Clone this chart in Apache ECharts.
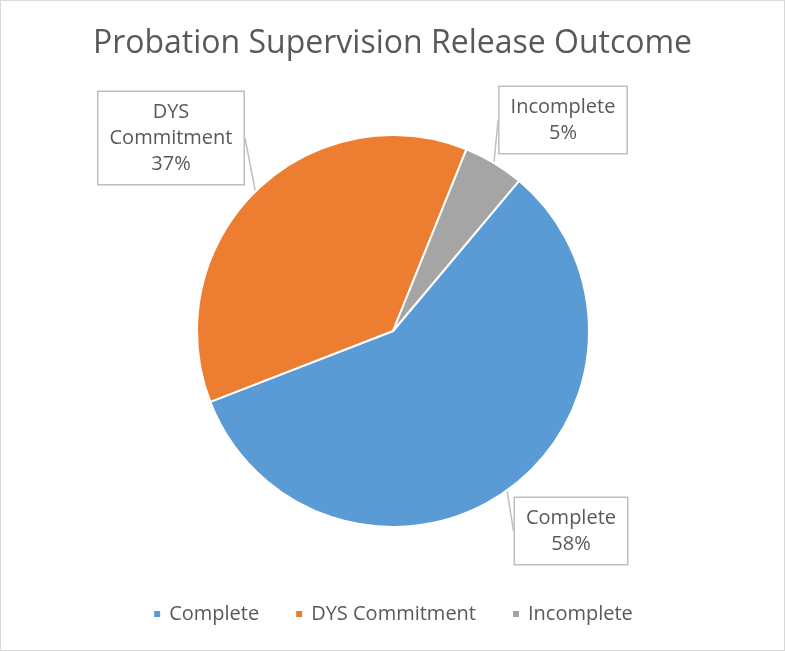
<!DOCTYPE html>
<html><head><meta charset="utf-8">
<script src="https://cdn.jsdelivr.net/npm/echarts@6/dist/echarts.min.js"></script>
<style>
html,body{margin:0;padding:0;background:#fff;}
#c{position:absolute;left:0;top:0;width:783px;height:649px;border:1px solid #d9d9d9;}
</style></head><body>
<div id="c"></div>
<script>
const categories = ['Complete', 'DYS Commitment', 'Incomplete'];
const values = [58, 37, 5];
const labelTexts = ['Complete\n58%', 'DYS\nCommitment\n37%', 'Incomplete\n5%'];
const colors = ['#5B9BD5', '#ED7D31', '#A5A5A5'];
const labelCenters = [[570, 530], [170, 137], [562, 119]];

const chart = echarts.init(document.getElementById('c'));
chart.setOption({
  animation: false,
  title: {
    text: 'Probation Supervision Release Outcome',
    left: 'center', top: 22,
    textStyle: {fontFamily: 'Open Sans', fontWeight: 'normal', fontSize: 32, color: '#595959'}
  },
  legend: {
    bottom: 21, left: 'center',
    itemWidth: 8, itemHeight: 8, itemGap: 35, icon: 'rect',
    textStyle: {fontFamily: 'Open Sans', fontSize: 20, color: '#595959', padding: [0, 0, 0, 3]},
    data: categories
  },
  series: [{
    type: 'pie',
    center: [392, 330],
    radius: [0, 196],
    startAngle: 50,
    clockwise: true,
    itemStyle: {borderColor: '#fff', borderWidth: 2},
    label: {
      show: true,
      formatter: p => labelTexts[p.dataIndex],
      fontFamily: 'Open Sans', fontSize: 20, color: '#595959', lineHeight: 26,
      backgroundColor: '#fff', borderColor: '#bfbfbf', borderWidth: 1.5,
      padding: [8, 11, 6, 11], align: 'center'
    },
    labelLine: {show: true, length: 8, length2: 0, lineStyle: {color: '#bfbfbf', width: 1.5}},
    labelLayout: function (p) {
      const c = labelCenters[p.dataIndex];
      return {x: c[0], y: c[1], align: 'center', verticalAlign: 'middle', moveOverlap: false};
    },
    data: categories.map((n, i) => ({name: n, value: values[i], itemStyle: {color: colors[i]}}))
  }]
});
</script>
</body></html>
